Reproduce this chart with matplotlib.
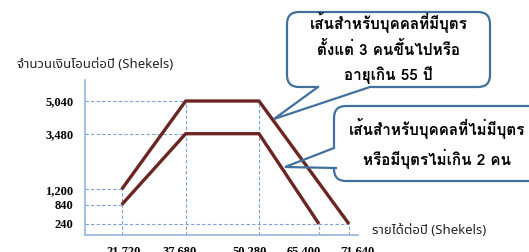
import numpy as np
import matplotlib
matplotlib.use("Agg")
import matplotlib.pyplot as plt
import matplotlib.font_manager as fm
import matplotlib.patheffects as pe
import matplotlib.transforms as mtransforms
from matplotlib.ft2font import FT2Font
from matplotlib.patches import FancyBboxPatch

# ---------------- data ----------------
income_ticks = [21720, 37680, 50280, 65400, 71640]
amount_ticks = [240, 840, 1200, 3480, 5040]

# line for people with 3+ children or age over 55
upper_x = [21720, 37680, 50280, 71640]
upper_y = [1200, 5040, 5040, 240]
# line for people with no children or up to 2 children
lower_x = [21720, 37680, 50280, 65400]
lower_y = [840, 3480, 3480, 240]

ylabel_text = "จำนวนเงินโอนต่อปี (Shekels)"
xlabel_text = "รายได้ต่อปี (Shekels)"
callout1 = "เส้นสำหรับบุคคลที่มีบุตร\nตั้งแต่ 3 คนขึ้นไปหรือ\nอายุเกิน 55 ปี"
callout2 = "เส้นสำหรับบุคคลที่ไม่มีบุตร\nหรือมีบุตรไม่เกิน 2 คน"

# ---------------- fonts ----------------
def find_thai_fonts():
    fams = {}
    for f in fm.fontManager.ttflist:
        try:
            cm = FT2Font(f.fname).get_charmap()
        except Exception:
            continue
        if 0x0E2A in cm and 0x0E33 in cm:
            w = f.weight if isinstance(f.weight, int) else (700 if "bold" in str(f.weight) else 400)
            fams.setdefault(f.name, set()).add(w)
    return fams

thai_fams = find_thai_fonts()
pref = ["Tahoma", "Noto Sans Thai", "Noto Serif Thai", "Loma", "Garuda", "Sarabun"]
thai = None
for p in pref:
    if p in thai_fams:
        thai = p
        break
if thai is None and thai_fams:
    thai = sorted(thai_fams)[0]
thai_bold = None
for p in pref + sorted(thai_fams):
    if p in thai_fams and max(thai_fams[p]) >= 600:
        thai_bold = p
        break

fam = [thai, "DejaVu Sans"] if thai else ["DejaVu Sans"]
fam_b = [thai_bold, "DejaVu Sans"] if thai_bold else fam
bold_fx = [] if thai_bold else [pe.withStroke(linewidth=0.7, foreground="black")]
serif = ["Liberation Serif", "DejaVu Serif"]

# ---------------- custom (non-linear) axis scales ----------------
xk_data = np.array([0, 21720, 37680, 50280, 65400, 71640, 76000], float)
xk_pos = np.array([85, 121.7, 185.7, 259, 319, 349, 358], float)
yk_data = np.array([0, 240, 840, 1200, 3480, 5040, 6000], float)
yk_pos = -np.array([235, 224, 204.7, 189.3, 133.7, 101, 80], float)

def xf(v): return np.interp(v, xk_data, xk_pos)
def xi(p): return np.interp(p, xk_pos, xk_data)
def yf(v): return np.interp(v, yk_data, yk_pos)
def yi(p): return np.interp(p, yk_pos, yk_data)

W, H = 529, 252
fig = plt.figure(figsize=(W / 100, H / 100), dpi=100)
ax = fig.add_axes([85 / W, (H - 235) / H, (358 - 85) / W, (235 - 80) / H])
ax.set_xscale("function", functions=(xf, xi))
ax.set_yscale("function", functions=(yf, yi))
ax.set_xlim(0, 76000)
ax.set_ylim(0, 6000)

grid_c = "#7aa2d4"
spine_c = "#94b4dc"
line_c = "#6b2522"
dash = (0, (3.0, 2.0))

# dashed guide lines from the data
hl_ends = {5040: 37680, 3480: 37680, 1200: 21720, 840: 21720, 240: 71640}
for yv in amount_ticks:
    ax.plot([0, hl_ends[yv]], [yv, yv], color=grid_c, lw=0.8, linestyle=dash, zorder=1)
vl_tops = {21720: 1200, 37680: 5040, 50280: 5040, 65400: 240, 71640: 240}
for xv in income_ticks:
    ax.plot([xv, xv], [0, vl_tops[xv]], color=grid_c, lw=0.8, linestyle=dash, zorder=1)

ax.plot(upper_x, upper_y, color=line_c, lw=2.4, solid_capstyle="butt", zorder=3)
ax.plot(lower_x, lower_y, color=line_c, lw=2.4, solid_capstyle="butt", zorder=3)

for s in ["top", "right"]:
    ax.spines[s].set_visible(False)
for s in ["left", "bottom"]:
    ax.spines[s].set_color(spine_c)
    ax.spines[s].set_linewidth(1.2)

ax.set_xticks(income_ticks)
ax.set_xticklabels([f"{v:,}" for v in income_ticks])
ax.set_yticks(amount_ticks)
ax.set_yticklabels([f"{v:,}" for v in amount_ticks])
ax.minorticks_off()
ax.tick_params(length=0, labelsize=9)
ax.tick_params(axis="x", pad=7.5)
ax.tick_params(axis="y", pad=8.5)
for lab in ax.get_xticklabels() + ax.get_yticklabels():
    lab.set_fontfamily(serif)
    lab.set_fontweight("bold")
# the reference's x labels sit slightly off their guide lines
x_label_shift_px = [2, -6, -9, -15, 8]
for lab, dx in zip(ax.get_xticklabels(), x_label_shift_px):
    lab.set_transform(lab.get_transform() + mtransforms.ScaledTranslation(dx / 100, 0, fig.dpi_scale_trans))
ax.patch.set_alpha(0)

# ---------------- overlay for labels & callouts (figure pixel coords) ----------------
ov = fig.add_axes([0, 0, 1, 1], zorder=5)
ov.set_xlim(0, W)
ov.set_ylim(H, 0)
ov.axis("off")
ov.patch.set_alpha(0)

ov.text(17, 64, ylabel_text, fontsize=9.5, family=fam, color="#222222", ha="left", va="center")
ov.text(372, 230, xlabel_text, fontsize=9.5, family=fam, color="#222222", ha="left", va="center")

box_c = "#41709c"
# callout 1
b1 = FancyBboxPatch((287, 12), 490 - 287, 87 - 12, boxstyle="round,pad=0,rounding_size=12",
                    fc="white", ec=box_c, lw=1.6)
ov.add_patch(b1)
ov.plot([319, 369], [87, 87], color="white", lw=2.6, zorder=3)
ov.plot([318, 274, 370], [87, 119, 87], color=box_c, lw=1.6, zorder=4, solid_joinstyle="miter")
ov.text(388.5, 48, callout1, fontsize=11, family=fam_b, fontweight="bold", ha="center", va="center",
        linespacing=1.55, zorder=6, path_effects=bold_fx)

# callout 2
b2 = FancyBboxPatch((334, 106), 240, 181 - 106, boxstyle="round,pad=0,rounding_size=12",
                    fc="white", ec=box_c, lw=1.6)
ov.add_patch(b2)
ov.plot([334, 334], [149, 167], color="white", lw=2.6, zorder=3)
ov.plot([334, 285, 336], [148, 167, 168], color=box_c, lw=1.6, zorder=4, solid_joinstyle="miter")
ov.text(437, 143.5, callout2, fontsize=11, family=fam_b, fontweight="bold", ha="center", va="center",
        linespacing=1.6, zorder=6, path_effects=bold_fx)

fig.savefig("out.png", dpi=100)
